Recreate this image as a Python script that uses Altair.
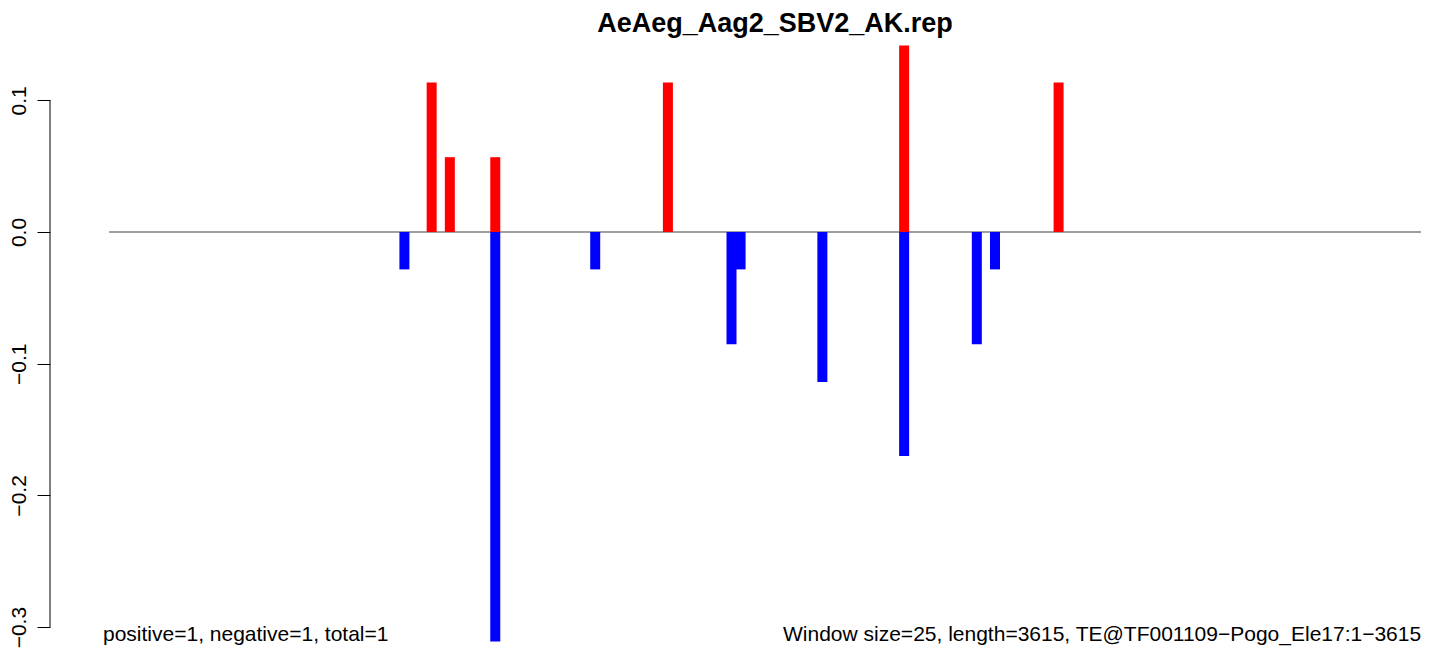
import altair as alt
import pandas as pd

# ---- data ----
title_text = "AeAeg_Aag2_SBV2_AK.rep"
left_note = "positive=1, negative=1, total=1"
right_note = "Window size=25, length=3615, TE@TF001109\u2212Pogo_Ele17:1\u22123615"
window_size = 25
seq_length = 3615

windows = [32, 35, 37, 42, 42, 53, 61, 68, 69, 78, 87, 87, 95, 97, 104]
values = [-0.0284, 0.1136, 0.0568, 0.0568, -0.311, -0.0284, 0.1136, -0.0852,
          -0.0284, -0.1139, 0.1417, -0.170, -0.0852, -0.0284, 0.1136]
y_ticks = [-0.3, -0.2, -0.1, 0.0, 0.1]

bars = pd.DataFrame({
    "pos": [(w + 0.5) * window_size for w in windows],
    "value": values,
})
zero = pd.DataFrame({"x": [0], "x2": [seq_length], "y": [0.0]})
one = pd.DataFrame({"a": [0]})

FONT = "Liberation Sans"
x_scale = alt.Scale(domain=[-148.9, 3595.9], nice=False, zero=False)
y_scale = alt.Scale(domain=[-0.31663, 0.16097], nice=False, zero=False)

y_axis = alt.Axis(values=y_ticks, domain=False, grid=False, title=None,
                  tickSize=13, tickColor="black", tickWidth=1,
                  labelAngle=270, labelAlign="center", labelBaseline="bottom",
                  labelPadding=8, labelFontSize=21, labelFont=FONT,
                  labelColor="black", format=".1f", labelOverlap=False)

zero_line = alt.Chart(zero).mark_rule(color="#a0a0a0", strokeWidth=2).encode(
    x=alt.X("x:Q", scale=x_scale, axis=None),
    x2="x2:Q",
    y=alt.Y("y:Q", scale=y_scale, axis=y_axis),
)

bar_layer = alt.Chart(bars).mark_bar(size=10, clip=True).encode(
    x=alt.X("pos:Q", scale=x_scale, axis=None),
    y=alt.Y("value:Q", scale=y_scale, axis=y_axis),
    color=alt.condition("datum.value > 0", alt.value("#FF0000"), alt.value("#0000FF")),
)

axis_line = alt.Chart(one).mark_rule(color="black", strokeWidth=1).encode(
    x=alt.value(0),
    y=alt.datum(0.1, scale=y_scale, axis=y_axis),
    y2=alt.datum(-0.3),
)

title_mark = alt.Chart(one).mark_text(
    font=FONT, fontSize=27, fontWeight="bold", align="center", baseline="alphabetic", color="black"
).encode(x=alt.value(725), y=alt.value(12), text=alt.value(title_text))

left_mark = alt.Chart(one).mark_text(
    font=FONT, fontSize=21, align="left", baseline="alphabetic", color="black"
).encode(x=alt.value(53), y=alt.value(621), text=alt.value(left_note))

right_mark = alt.Chart(one).mark_text(
    font=FONT, fontSize=21, align="left", baseline="alphabetic", color="black"
).encode(x=alt.value(733), y=alt.value(621), text=alt.value(right_note))

chart = alt.layer(
    zero_line, bar_layer, axis_line, title_mark, left_mark, right_mark
).properties(
    width=1371, height=629,
    autosize=alt.AutoSizeParams(type="none"),
    padding={"left": 42, "top": 12, "right": 0, "bottom": 0},
    background="white",
).configure_view(strokeWidth=0)

chart.save("out.html", embed_options={"renderer": "svg", "actions": False})
